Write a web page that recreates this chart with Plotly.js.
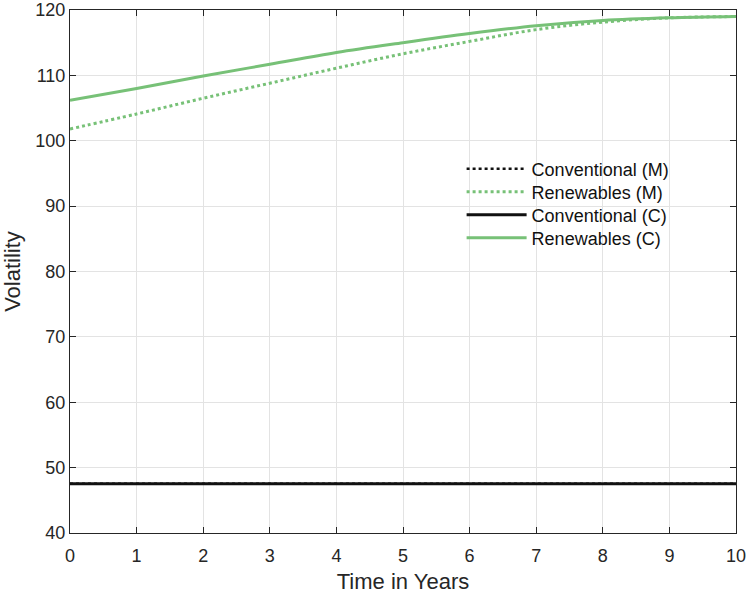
<!DOCTYPE html>
<html>
<head>
<meta charset="utf-8">
<script src="https://cdn.plot.ly/plotly-3.0.1.min.js"></script>
<style>
  html, body { margin: 0; padding: 0; background: #fff; }
  #plot { width: 747px; height: 594px; }
</style>
</head>
<body>
<div id="plot"></div>
<script>
// years on the x axis
const years = [0, 1, 2, 3, 4, 5, 6, 7, 8, 9, 10];

// volatility
const conventionalM = [47.55, 47.55, 47.55, 47.55, 47.55, 47.55, 47.55, 47.55, 47.55, 47.55, 47.55];
const renewablesM   = [101.8, 104.1, 106.5, 108.8, 111.1, 113.3, 115.2, 117.0, 118.15, 118.8, 119.0];
const conventionalC = [47.55, 47.55, 47.55, 47.55, 47.55, 47.55, 47.55, 47.55, 47.55, 47.55, 47.55];
const renewablesC   = [106.2, 108.0, 109.9, 111.7, 113.5, 115.0, 116.4, 117.6, 118.4, 118.8, 119.0];

const GREEN = "#77c177";
const DARK = "#262626";
const FONT = "Liberation Sans, Arial, sans-serif";

const traces = [
  { x: years, y: conventionalM, name: "Conventional (M)", mode: "lines", legend: "legend",
    line: { color: "#111", width: 2.5, dash: "dot" } },
  { x: years, y: renewablesM, name: "Renewables (M)", mode: "lines", legend: "legend2",
    line: { color: GREEN, width: 3, dash: "dot", shape: "spline" } },
  { x: years, y: conventionalC, name: "Conventional (C)", mode: "lines", legend: "legend3",
    line: { color: "#111", width: 3 } },
  { x: years, y: renewablesC, name: "Renewables (C)", mode: "lines", legend: "legend4",
    line: { color: GREEN, width: 3, shape: "spline" } }
];

const axisBase = {
  showline: true, mirror: "ticks", linecolor: DARK, linewidth: 1,
  ticks: "inside", ticklen: 6, tickcolor: DARK,
  showgrid: true, gridcolor: "#e3e3e3", gridwidth: 1,
  zeroline: false,
  tickfont: { family: FONT, size: 18, color: DARK }
};

// one single-entry legend per row so the rows sit as tight as in the original
function legendRow(y) {
  return {
    x: 0.588, y: y, xanchor: "left", yanchor: "middle",
    bgcolor: "rgba(0,0,0,0)", borderwidth: 0,
    itemwidth: 60,
    font: { family: FONT, size: 18, color: "#111" }
  };
}

const layout = {
  width: 747, height: 594,
  margin: { l: 70, r: 11, t: 10, b: 61 },
  paper_bgcolor: "#fff", plot_bgcolor: "#fff",
  font: { family: FONT, color: DARK },
  xaxis: Object.assign({}, axisBase, {
    range: [0, 10], dtick: 1, ticklabelstandoff: 6,
    title: { text: "Time in Years", font: { size: 22, color: DARK }, standoff: 14 }
  }),
  yaxis: Object.assign({}, axisBase, {
    range: [40, 120], dtick: 10,
    title: { text: "Volatility", font: { size: 22, color: DARK }, standoff: 12 }
  }),
  showlegend: true,
  legend: legendRow(0.696),
  legend2: legendRow(0.652),
  legend3: legendRow(0.608),
  legend4: legendRow(0.564)
};

Plotly.newPlot("plot", traces, layout, { staticPlot: true });
</script>
</body>
</html>
